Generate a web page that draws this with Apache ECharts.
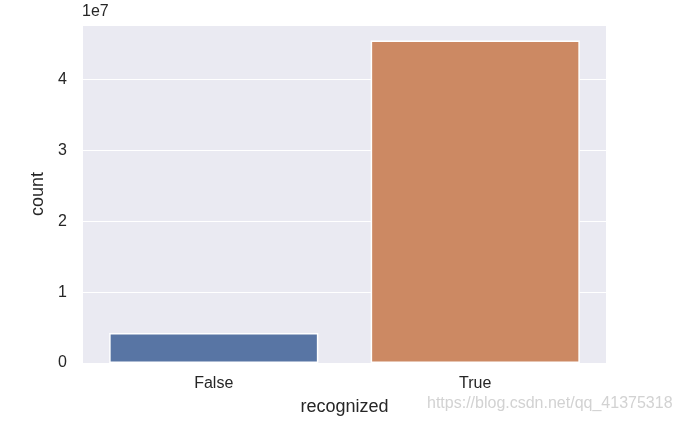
<!DOCTYPE html>
<html><head><meta charset="utf-8">
<script src="https://cdn.jsdelivr.net/npm/echarts@6/dist/echarts.min.js"></script>
<style>html,body{margin:0;padding:0;background:#fff}#c{width:680px;height:422px}</style>
</head><body><div id="c"></div>
<script>
var categories = ['False', 'True'];
var counts = [4240000, 45500000];
var barColors = ['#5875a4', '#cc8963'];
var yTicks = [0, 1, 2, 3, 4];

var FONT = 'Liberation Sans, Arial, sans-serif';
var chart = echarts.init(document.getElementById('c'), null, {renderer: 'canvas'});
chart.setOption({
  animation: false,
  backgroundColor: '#ffffff',
  grid: {left: 83, right: 74, top: 25, bottom: 59, show: true, backgroundColor: '#eaeaf2', borderWidth: 0},
  xAxis: {
    type: 'category', data: categories,
    name: 'recognized', nameLocation: 'middle', nameGap: 35,
    nameTextStyle: {fontFamily: FONT, fontSize: 18, color: '#262626'},
    axisLine: {show: false}, axisTick: {show: false},
    axisLabel: {fontFamily: FONT, fontSize: 16, color: '#262626', margin: 13},
    splitLine: {show: false}
  },
  yAxis: {
    type: 'value', min: 0, max: 47700000, interval: 10000000,
    name: 'count', nameLocation: 'middle', nameGap: 34, nameRotate: 90,
    nameTextStyle: {fontFamily: FONT, fontSize: 18, color: '#262626'},
    axisLine: {show: false}, axisTick: {show: false},
    axisLabel: {fontFamily: FONT, fontSize: 16, color: '#262626', margin: 16, showMaxLabel: false,
      formatter: function (v) { var t = Math.round(v / 1e7); return yTicks.indexOf(t) >= 0 ? String(t) : ''; }},
    splitLine: {show: true, lineStyle: {color: '#ffffff', width: 1.2}}
  },
  series: [{
    type: 'bar', barWidth: '80%',
    data: counts.map(function (v, i) { return {value: v, itemStyle: {color: barColors[i]}}; }),
    itemStyle: {borderColor: '#ffffff', borderWidth: 1.5}
  }],
  graphic: [
    {type: 'text', left: 82, top: 4, style: {text: '1e7', fontFamily: FONT, fontSize: 16, fill: '#262626'}},
    {type: 'text', left: 427, top: 396, style: {text: 'https://blog.csdn.net/qq_41375318', fontFamily: FONT, fontSize: 16, fill: 'rgba(205,205,205,0.9)'}}
  ]
});
</script></body></html>
